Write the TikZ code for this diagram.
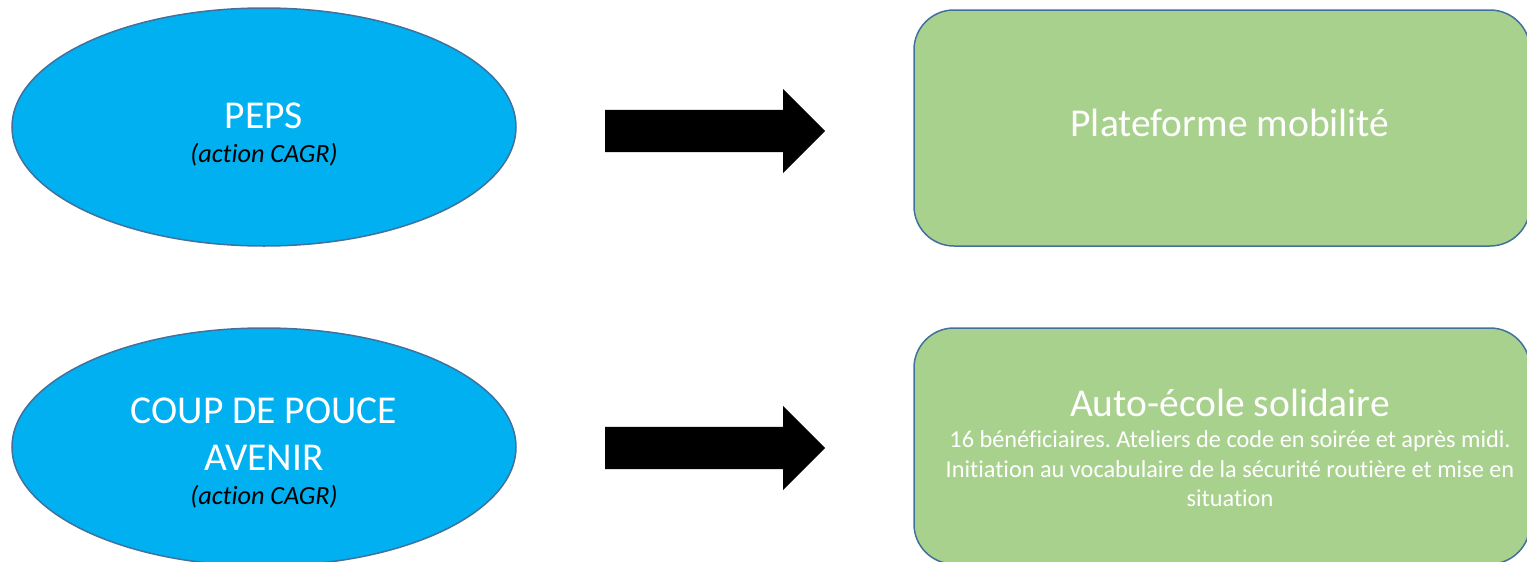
\documentclass[tikz,border=0pt]{standalone}
\usepackage{fontspec}
\setmainfont{Carlito}[Ligatures=NoCommon]
\usepackage{tikz}
\usetikzlibrary{shapes.geometric,shapes.arrows}
\frenchspacing

\definecolor{ovalblue}{HTML}{00B0F0}
\definecolor{panelgreen}{HTML}{A9D18E}
\definecolor{edgeblue}{HTML}{41719C}

\begin{document}
\begin{tikzpicture}[x=1pt,y=-1pt,
  oval/.style={ellipse,draw=edgeblue,line width=1.5pt,fill=ovalblue,
    minimum width=504pt,minimum height=238pt,inner sep=0pt},
  panel/.style={rectangle,rounded corners=40pt,draw=edgeblue,line width=1.5pt,
    fill=panelgreen,minimum width=616pt,minimum height=236pt,inner sep=0pt},
  bigarrow/.style={single arrow,fill=black,minimum height=220pt,inner xsep=0pt,
    inner ysep=21pt,single arrow head extend=21pt,anchor=west},
  txt/.style={text=white,align=flush center,inner sep=0pt}]
\useasboundingbox (0,0) rectangle (1527,562);
\clip (0,0) rectangle (1527,562);

% left column
\node[oval] (peps) at (264,127) {};
\node[oval] (coup) at (264,447) {};
\node[txt,text width=300pt,font=\fontsize{39.5}{34}\selectfont] (pepsT) at (264,134)
  {PEPS\\\fontsize{26.3}{34}\selectfont\itshape\color{black}(action CAGR)};
\node[txt,text width=300pt,font=\fontsize{39.5}{34}\selectfont] (coupT) at (264,453)
  {COUP DE POUCE\\[13pt]AVENIR\\\fontsize{26.3}{34}\selectfont\itshape\color{black}(action CAGR)};

% arrows
\node[bigarrow] (arrA) at (605,131) {};
\node[bigarrow] (arrB) at (605,448) {};

% right column
\node[panel] (plate) at (1222,128) {};
\node[panel] (auto) at (1222,446) {};
\node[txt,font=\fontsize{39.5}{40}\selectfont] (plateT) at (1230,123) {Plateforme mobilité};
\node[txt,text width=600pt,font=\fontsize{39.5}{29.5}\selectfont] (autoT) at (1230,448)
  {Auto-école solidaire\\[1.5pt]\fontsize{24.3}{29.5}\selectfont
   16 bénéficiaires. Ateliers de code en soirée et après midi.\\
   Initiation au vocabulaire de la sécurité routière et mise en\\situation};
\end{tikzpicture}
\end{document}
